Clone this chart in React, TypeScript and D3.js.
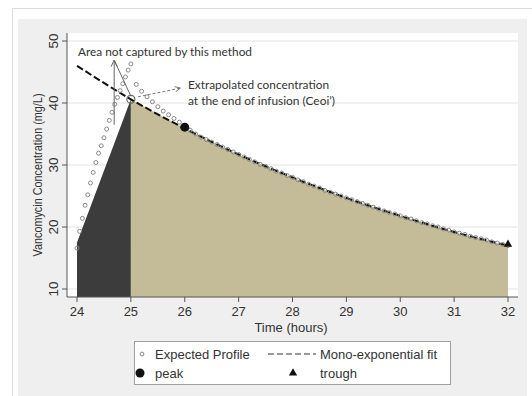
import React from 'react';
import * as d3 from 'd3';

// expected profile during the 1 h infusion (every 0.05 h, 24.00 -> 25.00)
const riseConc = [16.6, 19.3, 21.4, 23.5, 25.2, 27.1, 28.8, 30.4, 31.9, 33.1, 34.4,
  35.8, 37.2, 38.5, 39.8, 40.9, 42.0, 43.1, 44.2, 45.3, 46.3];
// expected profile after the infusion (every 0.1 h, 25.1 -> 32.0)
const declineConc = [
  43.0, 41.9, 41.0, 40.2, 39.4, 38.7, 38.1, 37.5, 36.9, 36.3,
  35.6, 35.0, 34.5, 34.1, 33.7, 33.3, 32.9, 32.5, 32.1, 31.7,
  31.3, 30.9, 30.5, 30.1, 29.8, 29.4, 29.0, 28.7, 28.3, 28.0,
  27.6, 27.3, 26.9, 26.6, 26.3, 25.9, 25.6, 25.3, 25.0, 24.7,
  24.4, 24.1, 23.8, 23.5, 23.2, 22.9, 22.6, 22.3, 22.1, 21.8,
  21.5, 21.3, 21.0, 20.7, 20.5, 20.2, 20.0, 19.7, 19.5, 19.2,
  19.0, 18.8, 18.5, 18.3, 18.1, 17.9, 17.6, 17.4, 17.2, 17.0];

const fitHours = [24, 25, 26, 27, 28, 29, 30, 31, 32];
const fitConc = [46.0, 40.6, 35.9, 31.7, 28.0, 24.7, 21.8, 19.2, 17.0];

const infusionHours = [24, 25];
const infusionConc = [17.5, 40.6];

const peak = { t: 26, c: 36.1 };
const trough = { t: 32, c: 17.2 };
const ceoi = { t: 25, c: 40.6 };

const xTicks = [24, 25, 26, 27, 28, 29, 30, 31, 32];
const yTicks = [10, 20, 30, 40, 50];

const W = 532;
const H = 396;
const plot = { left: 67, right: 518, top: 33, bottom: 297 };

const x = d3.scaleLinear().domain([24, 32]).range([77, 508]);
const y = d3.scaleLinear().domain([10, 50]).range([289, 41]);

const sans = '"Liberation Sans", Arial, sans-serif';
const note = 'Lato, "Open Sans", sans-serif';

export default function App() {
  const rise = riseConc.map((c, i) => ({ t: 24 + i * 0.05, c }));
  const decline = declineConc.map((c, i) => ({ t: 25.1 + i * 0.1, c }));
  const expected = rise.concat(decline);

  const fit = fitHours.map((t, i) => ({ t, c: fitConc[i] }));
  const fitLine = d3.line<any>().x(d => x(d.t)).y(d => y(d.c)).curve(d3.curveMonotoneX);
  const tailArea = d3.area<any>()
    .x(d => x(d.t)).y0(plot.bottom).y1(d => y(d.c))
    .curve(d3.curveMonotoneX);
  const infusionArea = d3.area<any>()
    .x(d => x(d.t)).y0(plot.bottom).y1(d => y(d.c));
  const infusion = infusionHours.map((t, i) => ({ t, c: infusionConc[i] }));

  // annotation anchors (data coordinates)
  const apex = { x: x(24.69), y: y(46.9) };
  const vBottom = { x: x(24.69), y: y(36.5) };
  const diagEnd = { x: x(25.0), y: y(41.1) };
  const arrFrom = { x: x(25.13), y: y(41.0) };
  const arrTo = { x: x(25.92), y: y(42.4) };
  const ang = Math.atan2(arrTo.y - arrFrom.y, arrTo.x - arrFrom.x);
  const head = (p: { x: number; y: number }, a: number, len: number) => {
    const a1 = a + Math.PI - 0.45;
    const a2 = a + Math.PI + 0.45;
    return `M${p.x + len * Math.cos(a1)},${p.y + len * Math.sin(a1)}L${p.x},${p.y}L${p.x + len * Math.cos(a2)},${p.y + len * Math.sin(a2)}`;
  };

  const tri = d3.symbol().type(d3.symbolTriangle).size(30)();

  return (
    <svg width={W} height={H} style={{ position: 'absolute', left: 0, top: 0 }}>
      <rect x={0} y={0} width={W} height={H} fill="#fff" />
      {/* card */}
      <rect x={12.5} y={8.5} width={W} height={H} fill="#fff" stroke="#dcdcdc" />
      <rect x={18} y={19} width={509} height={H - 19} fill="#efefef" />
      {/* plot region */}
      <rect x={plot.left} y={plot.top} width={plot.right - plot.left}
        height={plot.bottom - plot.top} fill="#fff" />
      {yTicks.map(v => (
        <line key={'g' + v} x1={plot.left} x2={plot.right} y1={y(v)} y2={y(v)}
          stroke="#e3e3e3" strokeWidth={1} />
      ))}

      <path d={infusionArea(infusion) || ''} fill="#3c3c3c" />
      <path d={tailArea(fit.filter(d => d.t >= 25)) || ''} fill="#c4bc98" />

      <path d={fitLine(fit) || ''} fill="none" stroke="#111" strokeWidth={2}
        strokeDasharray="7,3" />

      {expected.map((d, i) => (
        <circle key={'e' + i} cx={x(d.t)} cy={y(d.c)} r={2} fill="none"
          stroke="#8a8a8a" strokeWidth={1} />
      ))}

      <circle cx={x(ceoi.t)} cy={y(ceoi.c)} r={4} fill="none" stroke="#666" strokeWidth={1.2} />
      <circle cx={x(peak.t)} cy={y(peak.c)} r={4.5} fill="#111" />
      <path d={tri || ''} transform={`translate(${x(trough.t)},${y(trough.c)})`} fill="#111" />

      {/* axes */}
      <line x1={plot.left} x2={plot.left} y1={plot.top} y2={plot.bottom} stroke="#555" />
      <line x1={plot.left} x2={plot.right} y1={plot.bottom} y2={plot.bottom} stroke="#555" />
      {yTicks.map(v => (
        <g key={'y' + v}>
          <line x1={plot.left - 5} x2={plot.left} y1={y(v)} y2={y(v)} stroke="#555" />
          <text transform={`translate(58,${y(v)}) rotate(-90)`} textAnchor="middle"
            fontFamily={sans} fontSize={13.5} fill="#333">{v}</text>
        </g>
      ))}
      {xTicks.map(v => (
        <g key={'x' + v}>
          <line x1={x(v)} x2={x(v)} y1={plot.bottom} y2={plot.bottom + 5} stroke="#555" />
          <text x={x(v)} y={316} textAnchor="middle" fontFamily={sans} fontSize={13}
            fill="#333">{v}</text>
        </g>
      ))}
      <text x={291} y={332} textAnchor="middle" fontFamily={sans} fontSize={13} fill="#333">
        Time (hours)
      </text>
      <text transform="translate(42,175) rotate(-90)" textAnchor="middle" fontFamily={sans}
        fontSize={13} fill="#333" textLength={163} lengthAdjust="spacingAndGlyphs">
        Vancomycin Concentration (mg/L)
      </text>

      {/* annotations */}
      <text x={78} y={56} fontFamily={note} fontSize={12} fill="#333" textLength={174}
        lengthAdjust="spacingAndGlyphs">Area not captured by this method</text>
      <path d={`M${vBottom.x},${vBottom.y}L${apex.x},${apex.y}L${diagEnd.x},${diagEnd.y}`}
        fill="none" stroke="#666" strokeWidth={1} />
      <path d={head(apex, -Math.PI / 2, 7)} fill="none" stroke="#666" strokeWidth={1} />
      <line x1={arrFrom.x} y1={arrFrom.y} x2={arrTo.x} y2={arrTo.y} stroke="#777"
        strokeWidth={1} strokeDasharray="3,2" />
      <path d={head(arrTo, ang, 6)} fill="none" stroke="#777" strokeWidth={1} />
      <text x={188} y={89} fontFamily={note} fontSize={12} fill="#333" textLength={141}
        lengthAdjust="spacingAndGlyphs">Extrapolated concentration</text>
      <text x={188} y={105} fontFamily={note} fontSize={12} fill="#333" textLength={147}
        lengthAdjust="spacingAndGlyphs">at the end of infusion (Ceoi’)</text>

      {/* legend */}
      <rect x={134.5} y={341.5} width={316} height={43} fill="#fff" stroke="#a0a0a0" />
      <circle cx={142} cy={354} r={1.9} fill="none" stroke="#8a8a8a" />
      <text x={155} y={358.5} fontFamily={sans} fontSize={13} fill="#333">Expected Profile</text>
      <line x1={268} x2={316} y1={354} y2={354} stroke="#333" strokeWidth={1.2}
        strokeDasharray="6,3" />
      <text x={320} y={358.5} fontFamily={sans} fontSize={13} fill="#333">Mono-exponential fit</text>
      <circle cx={140} cy={373} r={4.5} fill="#111" />
      <text x={155} y={377.5} fontFamily={sans} fontSize={13} fill="#333">peak</text>
      <path d={tri || ''} transform="translate(293,373)" fill="#111" />
      <text x={320} y={377.5} fontFamily={sans} fontSize={13} fill="#333">trough</text>
    </svg>
  );
}
